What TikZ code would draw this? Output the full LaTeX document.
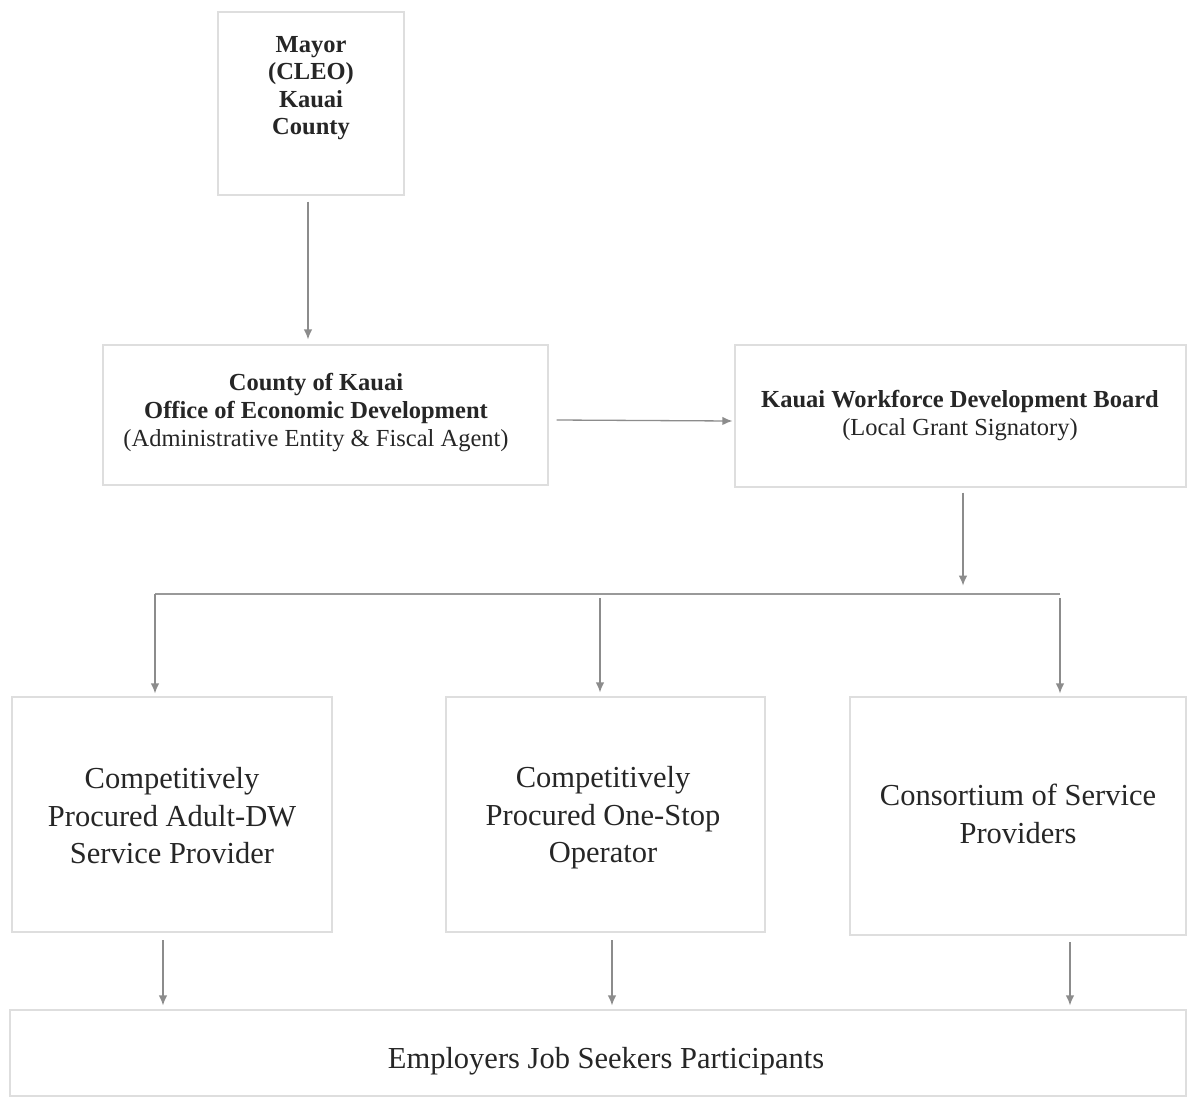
\documentclass[tikz,border=0pt]{standalone}
\usepackage{fontspec}
\setmainfont{Liberation Serif}
\usetikzlibrary{arrows.meta,calc}
\begin{document}
\begin{tikzpicture}[x=1pt,y=-1pt,
  box/.style={draw=black!13, line width=1.2pt, fill=white, inner sep=0pt},
  txt/.style={text=black!85, align=center, inner sep=0pt},
  bfs/.style={font=\bfseries\fontsize{24.5}{27.5}\selectfont},
  rgs/.style={font=\fontsize{30.5}{37.5}\selectfont},
  arr/.style={draw=black!45, line width=1.3pt, -{Latex[length=10pt,width=8.5pt]}},
  ln/.style={draw=black!40, line width=1.3pt}]
\useasboundingbox[fill=white] (0,0) rectangle (1188,1098);

% boxes
\node[box, minimum width=186pt, minimum height=183pt] (mayor) at (311,103.5) {};
\node[txt,bfs] (mayortxt) at (311,88) {Mayor\\(CLEO)\\Kauai\\County};

\node[box, minimum width=445pt, minimum height=140pt] (oed) at (325.5,415) {};
\node[txt, font=\fontsize{24.5}{28}\selectfont] (oedtxt) at (316,413) {\bfseries County of Kauai\\ \bfseries Office of Economic Development\\ \mdseries (Administrative Entity \& Fiscal Agent)};

\node[box, minimum width=451pt, minimum height=142pt] (kwdb) at (960.5,416) {};
\node[txt, font=\fontsize{24.5}{28}\selectfont] (kwdbtxt) at (960,416) {\bfseries Kauai Workforce Development Board\\ \mdseries (Local Grant Signatory)};

\node[box, minimum width=320pt, minimum height=235pt] (b1) at (172,814.5) {};
\node[txt,rgs] (b1txt) at (172,816) {Competitively\\Procured Adult-DW\\Service Provider};

\node[box, minimum width=319pt, minimum height=235pt] (b2) at (605.5,814.5) {};
\node[txt,rgs] (b2txt) at (603,818) {Competitively\\Procured One-Stop\\Operator};

\node[box, minimum width=336pt, minimum height=238pt] (b3) at (1018,816) {};
\node[txt,rgs] (b3txt) at (1018,814) {Consortium of Service\\Providers};

\node[box, minimum width=1176pt, minimum height=86pt] (emp) at (598,1053) {};
\node[txt,rgs] (emptxt) at (606,1061) {Employers Job Seekers Participants};

% connectors
\draw[arr] ([xshift=-3pt,yshift=-6pt]mayor.south) -- ([xshift=-3pt,yshift=5pt]mayor.south |- oed.north);
\draw[arr] ([xshift=8pt,yshift=-5pt]oed.east) -- ([xshift=-2pt,yshift=-5pt]kwdb.west);
\draw[arr] ([xshift=2.5pt,yshift=-5pt]kwdb.south) -- ++(0,93);

\coordinate (busL) at (155,594);
\coordinate (busR) at (1060,594);
\coordinate (busM) at (600,598);
\coordinate (busR2) at (1060,598);
\draw[ln] (busL) -- (busR);
\draw[arr] (busL) -- ([yshift=3pt]busL |- b1.north);
\draw[arr] (busM) -- ([yshift=4pt]busM |- b2.north);
\draw[arr] (busR2) -- ([yshift=3pt]busR2 |- b3.north);

\coordinate (d1) at (163,940);
\coordinate (d2) at (612,940);
\coordinate (d3) at (1070,942);
\draw[arr] (d1) -- ([yshift=4pt]d1 |- emp.north);
\draw[arr] (d2) -- ([yshift=4pt]d2 |- emp.north);
\draw[arr] (d3) -- ([yshift=4pt]d3 |- emp.north);
\end{tikzpicture}
\end{document}
